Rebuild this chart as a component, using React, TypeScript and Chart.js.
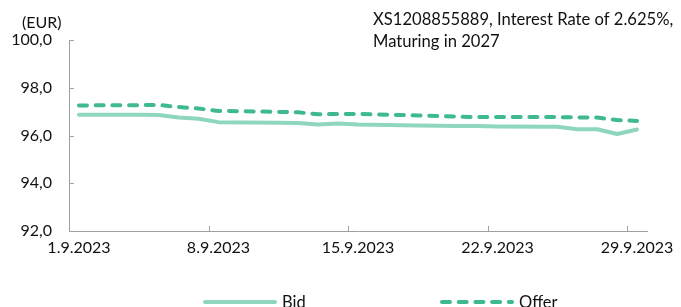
import React, { useEffect, useRef } from 'react';
import { Chart, registerables } from 'chart.js';

Chart.register(...registerables);

// ---- data ----
const tradingDays = [1, 4, 5, 6, 7, 8, 11, 12, 13, 14, 15, 18, 19, 20, 21, 22, 25, 26, 27, 28, 29];
const bidValues = [96.87, 96.87, 96.86, 96.75, 96.70, 96.56, 96.53, 96.52, 96.46, 96.50, 96.46, 96.42, 96.41, 96.40, 96.40, 96.38, 96.37, 96.26, 96.26, 96.06, 96.25];
const offerValues = [97.26, 97.27, 97.28, 97.19, 97.13, 97.03, 96.99, 96.97, 96.89, 96.90, 96.90, 96.84, 96.82, 96.79, 96.77, 96.77, 96.77, 96.76, 96.75, 96.65, 96.61];
const tickDays = [1, 8, 15, 22, 29];
const tickLabels = ['1.9.2023', '8.9.2023', '15.9.2023', '22.9.2023', '29.9.2023'];
const yTicks = [92, 94, 96, 98, 100];
const seriesNames = ['Bid', 'Offer'];
const titleLines = ['XS1208855889, Interest Rate of 2.625%,', 'Maturing in 2027'];
const unitLabel = '(EUR)';
const axisDays = 29;

const FONT = 'Lato, "Open Sans", sans-serif';
const TEXT = '#111111';
const AXIS = '#a0a0a0';
const BID_COLOR = '#8ED6BC';
const OFFER_COLOR = '#3FBA8F';

const decorations = {
  id: 'decorations',
  afterDraw(chart: any) {
    const { ctx, chartArea, scales } = chart;
    const x = scales.x;
    const y = scales.y;
    ctx.save();
    // inward tick marks
    ctx.strokeStyle = AXIS;
    ctx.lineWidth = 1;
    ctx.setLineDash([]);
    ctx.beginPath();
    yTicks.forEach((v) => {
      const py = Math.round(y.getPixelForValue(v)) + 0.5;
      ctx.moveTo(chartArea.left, py);
      ctx.lineTo(chartArea.left + 5, py);
    });
    tickDays.forEach((d) => {
      const px = Math.round(x.getPixelForValue(d - 1)) + 0.5;
      ctx.moveTo(px, chartArea.bottom);
      ctx.lineTo(px, chartArea.bottom - 5);
    });
    ctx.stroke();

    // title and unit
    ctx.fillStyle = TEXT;
    ctx.font = `16.6px ${FONT}`;
    ctx.textBaseline = 'alphabetic';
    ctx.textAlign = 'left';
    ctx.fillText(titleLines[0], 373, 25);
    ctx.fillText(titleLines[1], 373, 47);
    ctx.font = `16px ${FONT}`;
    ctx.fillText(unitLabel, 22, 28);

    // legend
    const legendX = [205, 442];
    const ly = 302;
    chart.data.datasets.forEach((ds: any, i: number) => {
      ctx.save();
      ctx.strokeStyle = ds.borderColor;
      ctx.lineWidth = ds.borderWidth;
      ctx.lineCap = 'round';
      ctx.setLineDash(ds.borderDash || []);
      ctx.beginPath();
      ctx.moveTo(legendX[i], ly);
      ctx.lineTo(legendX[i] + 70, ly);
      ctx.stroke();
      ctx.restore();
      ctx.fillStyle = TEXT;
      ctx.font = `16.5px ${FONT}`;
      ctx.textBaseline = 'middle';
      ctx.fillText(ds.label, legendX[i] + 77, ly + 1);
    });
    ctx.restore();
  },
};

export default function App() {
  const ref = useRef<HTMLCanvasElement | null>(null);

  useEffect(() => {
    if (!ref.current) return;
    const chart = new Chart(ref.current, {
      type: 'line',
      data: {
        datasets: [
          {
            label: seriesNames[0],
            data: tradingDays.map((d, i) => ({ x: d - 0.5, y: bidValues[i] })),
            borderColor: BID_COLOR,
            backgroundColor: BID_COLOR,
            borderWidth: 4,
            pointRadius: 0,
            borderCapStyle: 'round',
            borderJoinStyle: 'round',
            tension: 0,
          },
          {
            label: seriesNames[1],
            data: tradingDays.map((d, i) => ({ x: d - 0.5, y: offerValues[i] })),
            borderColor: OFFER_COLOR,
            backgroundColor: OFFER_COLOR,
            borderWidth: 4,
            borderDash: [8, 8.7],
            pointRadius: 0,
            borderCapStyle: 'round',
            borderJoinStyle: 'round',
            tension: 0,
          },
        ],
      },
      options: {
        animation: false,
        responsive: false,
        devicePixelRatio: 1,
        layout: { padding: { top: 40, right: 34, bottom: 0, left: 0 } },
        plugins: { legend: { display: false }, tooltip: { enabled: false } },
        scales: {
          x: {
            type: 'linear',
            min: 0,
            max: axisDays,
            afterBuildTicks: (scale: any) => {
              scale.ticks = tickDays.map((d) => ({ value: d - 0.5 }));
            },
            afterFit: (scale: any) => {
              scale.height = 76;
            },
            ticks: {
              autoSkip: false,
              maxRotation: 0,
              padding: 7,
              color: TEXT,
              font: { family: FONT, size: 16 },
              callback: (_v: any, index: number) => tickLabels[index],
            },
            grid: { display: true, drawOnChartArea: false, drawTicks: false },
            border: { display: true, color: AXIS, width: 1 },
          },
          y: {
            min: 92,
            max: 100,
            afterBuildTicks: (scale: any) => {
              scale.ticks = yTicks.map((v) => ({ value: v }));
            },
            afterFit: (scale: any) => {
              scale.width = 69;
            },
            ticks: {
              padding: 17,
              color: TEXT,
              font: { family: FONT, size: 16 },
              callback: (v: any) => Number(v).toFixed(1).replace('.', ','),
            },
            grid: { display: true, drawOnChartArea: false, drawTicks: false },
            border: { display: true, color: AXIS, width: 1 },
          },
        },
      },
      plugins: [decorations],
    });
    return () => chart.destroy();
  }, []);

  return (
    <div style={{ position: 'fixed', left: 0, top: 0, width: 681, height: 307, overflow: 'hidden', background: '#fff' }}>
      <canvas ref={ref} width={681} height={307} style={{ display: 'block' }} />
    </div>
  );
}
